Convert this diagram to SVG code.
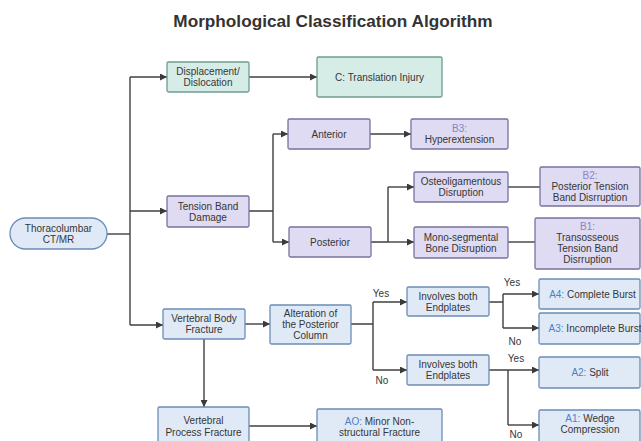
<svg xmlns="http://www.w3.org/2000/svg" width="641" height="441" viewBox="0 0 641 441">
<defs>
<marker id="arr" viewBox="0 0 10 10" refX="10" refY="5" markerWidth="7" markerHeight="7" markerUnits="userSpaceOnUse" orient="auto">
<path d="M0,0 L10,5 L0,10 z" fill="#3a3a3a"/>
</marker>
<style>
text{font-family:"Liberation Sans",Arial,sans-serif;font-size:10px;fill:#363636;text-anchor:middle}
.title{font-size:17.2px;font-weight:bold;fill:#333}
.g rect{fill:#d6ece6;stroke:#6f9c90;stroke-width:1.3}
.p rect{fill:#dedbf3;stroke:#77729e;stroke-width:1.3}
.b rect{fill:#e0eaf7;stroke:#6b8cb6;stroke-width:1.3}
.lp{fill:#8c82c6}
.lb{fill:#4d7fc9}
.c path{fill:none;stroke:#3f3f3f;stroke-width:1.4}
.c .a{marker-end:url(#arr)}
</style>
</defs>
<rect width="641" height="441" fill="#ffffff"/>
<text class="title" x="333" y="27">Morphological Classification Algorithm</text>

<g class="c" id="connectors">
<path d="M107,234 H130"/>
<path d="M130,77 V325"/>
<path class="a" d="M130,77 H167"/>
<path class="a" d="M130,211 H167"/>
<path class="a" d="M130,325 H163"/>
<path class="a" d="M249,77 H317"/>
<path d="M249,211 H273 M273,134 V242"/>
<path class="a" d="M273,134 H288"/>
<path class="a" d="M273,242 H289"/>
<path class="a" d="M370,134 H411"/>
<path d="M371,242 H388 M388,187 V242"/>
<path class="a" d="M388,187 H414"/>
<path class="a" d="M388,242 H414"/>
<path d="M508,187 H540"/>
<path d="M508,242 H535"/>
<path class="a" d="M245,324 H270"/>
<path d="M351,324 H373 M373,302 V370"/>
<path class="a" d="M373,302 H407"/>
<path class="a" d="M373,370 H407"/>
<path d="M489,302 H503 M503,294 V328"/>
<path class="a" d="M503,294 H539"/>
<path class="a" d="M503,328 H539"/>
<path class="a" d="M489,370 H539"/>
<path d="M508,370 V425"/>
<path class="a" d="M508,425 H539"/>
<path class="a" d="M204,339 V407"/>
<path class="a" d="M249,426 H317"/>
<text x="381" y="297">Yes</text>
<text x="382" y="384">No</text>
<text x="512" y="286">Yes</text>
<text x="515" y="345">No</text>
<text x="516" y="362">Yes</text>
<text x="516" y="438">No</text>
</g>

<g id="start" class="b">
<rect x="10" y="218" width="97" height="31" rx="15.5"/>
<text x="58.5" y="231.5">Thoracolumbar</text>
<text x="58.5" y="242.5">CT/MR</text>
</g>

<g id="displacement" class="g">
<rect x="167" y="62" width="82" height="30" rx="1.5"/>
<text x="208" y="75">Displacement/</text>
<text x="208" y="86">Dislocation</text>
</g>
<g id="typeC" class="g">
<rect x="317" y="57" width="125" height="40" rx="1.5"/>
<text x="379.5" y="80.5">C: Translation Injury</text>
</g>

<g id="tension" class="p">
<rect x="167" y="196" width="82" height="31" rx="1.5"/>
<text x="208" y="209.5">Tension Band</text>
<text x="208" y="220.5">Damage</text>
</g>
<g id="anterior" class="p">
<rect x="288" y="119" width="82" height="30" rx="1.5"/>
<text x="329" y="137.5">Anterior</text>
</g>
<g id="typeB3" class="p">
<rect x="411" y="119" width="97" height="30" rx="1.5"/>
<text class="lp" x="459.5" y="132">B3:</text>
<text x="459.5" y="143">Hyperextension</text>
</g>
<g id="posterior" class="p">
<rect x="289" y="227" width="82" height="30" rx="1.5"/>
<text x="330" y="245.5">Posterior</text>
</g>
<g id="osteo" class="p">
<rect x="414" y="172" width="94" height="30" rx="1.5"/>
<text x="461" y="185">Osteoligamentous</text>
<text x="461" y="196">Disruption</text>
</g>
<g id="mono" class="p">
<rect x="414" y="227" width="94" height="31" rx="1.5"/>
<text x="461" y="240.5">Mono-segmental</text>
<text x="461" y="251.5">Bone Disruption</text>
</g>
<g id="typeB2" class="p">
<rect x="540" y="167" width="100" height="39" rx="1.5"/>
<text class="lp" x="590" y="178.5">B2:</text>
<text x="590" y="189.5">Posterior Tension</text>
<text x="590" y="200.5">Band Disrruption</text>
</g>
<g id="typeB1" class="p">
<rect x="535" y="218" width="105" height="51" rx="1.5"/>
<text class="lp" x="587.5" y="230">B1:</text>
<text x="587.5" y="241">Transosseous</text>
<text x="587.5" y="252">Tension Band</text>
<text x="587.5" y="263">Disrruption</text>
</g>

<g id="vbf" class="b">
<rect x="163" y="309" width="82" height="30" rx="1.5"/>
<text x="204" y="322">Vertebral Body</text>
<text x="204" y="333">Fracture</text>
</g>
<g id="alteration" class="b">
<rect x="270" y="305" width="81" height="39" rx="1.5"/>
<text x="310.5" y="316.5">Alteration of</text>
<text x="310.5" y="327.5">the Posterior</text>
<text x="310.5" y="338.5">Column</text>
</g>
<g id="endplates1" class="b">
<rect x="407" y="287" width="82" height="29" rx="1.5"/>
<text x="448" y="299.5">Involves both</text>
<text x="448" y="310.5">Endplates</text>
</g>
<g id="endplates2" class="b">
<rect x="407" y="355" width="82" height="30" rx="1.5"/>
<text x="448" y="368">Involves both</text>
<text x="448" y="379">Endplates</text>
</g>
<g id="typeA4" class="b">
<rect x="539" y="279" width="101" height="30" rx="1.5"/>
<text x="592.5" y="297.5"><tspan class="lb">A4:</tspan> Complete Burst</text>
</g>
<g id="typeA3" class="b">
<rect x="539" y="313" width="101" height="31" rx="1.5"/>
<text x="595" y="332"><tspan class="lb">A3:</tspan> Incomplete Burst</text>
</g>
<g id="typeA2" class="b">
<rect x="539" y="357" width="101" height="31" rx="1.5"/>
<text x="590" y="376"><tspan class="lb">A2:</tspan> Split</text>
</g>
<g id="typeA1" class="b">
<rect x="539" y="410" width="101" height="33" rx="1.5"/>
<text x="590" y="422"><tspan class="lb">A1:</tspan> Wedge</text>
<text x="590" y="433">Compression</text>
</g>
<g id="vpf" class="b">
<rect x="158" y="407" width="91" height="36" rx="1.5"/>
<text x="203.5" y="424">Vertebral</text>
<text x="203.5" y="436">Process Fracture</text>
</g>
<g id="typeA0" class="b">
<rect x="317" y="409" width="125" height="34" rx="1.5"/>
<text x="379.5" y="424.5"><tspan class="lb">AO:</tspan> Minor Non-</text>
<text x="379.5" y="436">structural Fracture</text>
</g>
</svg>
